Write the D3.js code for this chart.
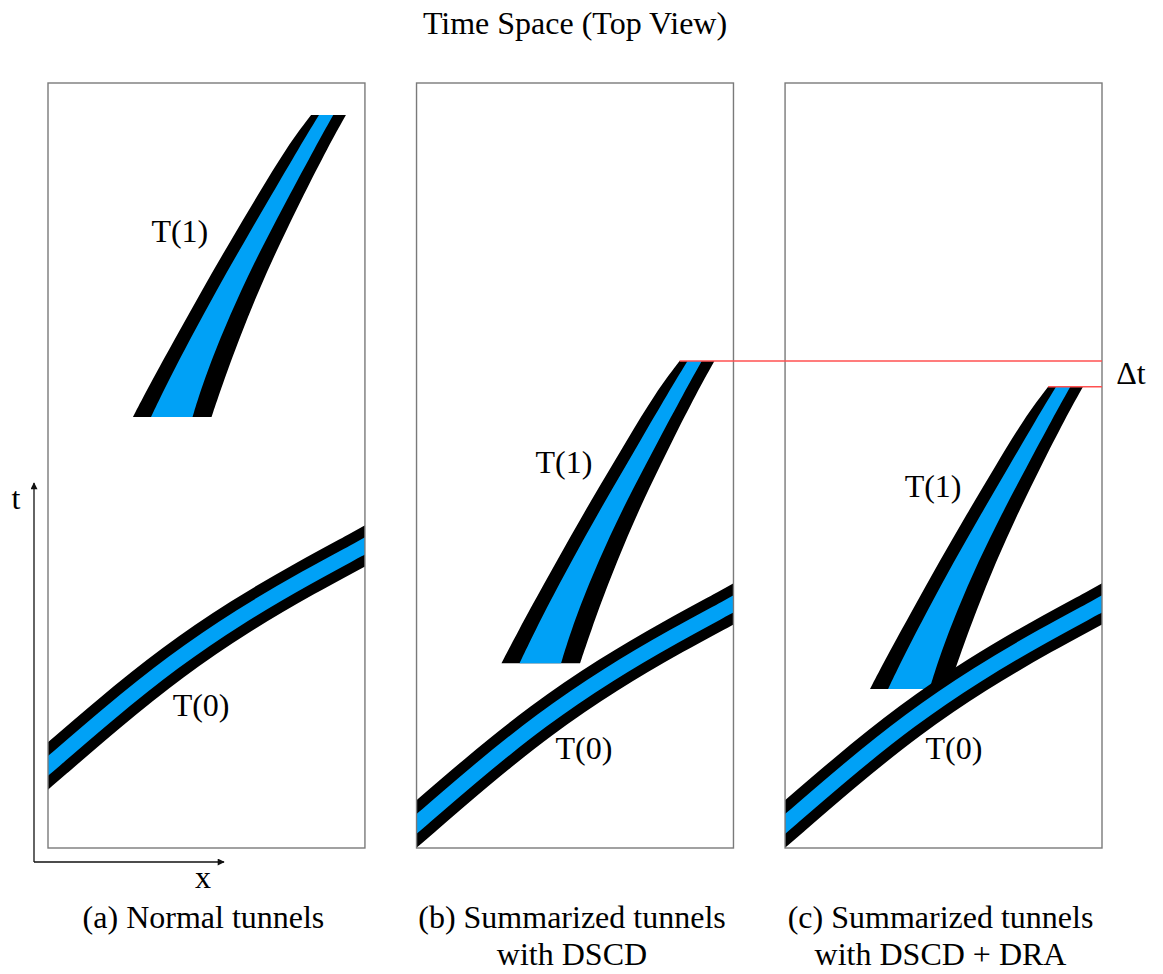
<!DOCTYPE html>
<html>
<head>
<meta charset="utf-8">
<script src="https://cdn.jsdelivr.net/npm/d3@7"></script>
<style>
  body { margin: 0; background: #fff; }
  svg text { font-family: "Liberation Serif", "DejaVu Serif", serif !important; }
</style>
</head>
<body>
<div id="visContainer"></div>
<script>
// panels and their captions
const panels = ["a", "b", "c"];
const captionLines = [
  ["(a) Normal tunnels"],
  ["(b) Summarized tunnels", "with DSCD"],
  ["(c) Summarized tunnels", "with DSCD + DRA"],
];

// T(0) centre line, in panel units (x 0..100, t 0..240)
const t0X = [-5, 0, 18.6, 39.4, 60.6, 81.7, 100, 105];
const t0T = [21.5, 25.7, 41.8, 58.5, 72.8, 85.0, 94.7, 97.6];
const t0Shift = [0, -18.2, -18.2];

// T(1) edges (outer black, inner blue), widening toward the bottom
const t1T = [135.2, 145, 160, 175, 190, 205, 220, 230];
const t1OuterLeft = [26.8, 31.9, 40.2, 48.6, 57.3, 66.3, 75.4, 83.0];
const t1InnerLeft = [32.5, 37.2, 45.0, 53.2, 61.8, 70.6, 79.4, 85.5];
const t1InnerRight = [45.6, 48.6, 54.3, 60.9, 68.3, 76.3, 84.4, 90.0];
const t1OuterRight = [51.6, 54.9, 60.4, 66.5, 73.3, 80.7, 88.4, 94.0];
const t1Shift = [0, -77.2, -85.3];

// label anchors
const t1LabelX = [41.6, 46.5, 46.7];
const t1LabelT = [190.1, 117.6, 110.1];
const t0LabelX = [48.3, 52.8, 53.3];
const t0LabelT = [41.4, 27.9, 27.9];

const serif = "'Liberation Serif', 'DejaVu Serif', serif";

function drawVis() {
  const width = 1163;
  const height = 974;
  const top = 83;
  const bottom = 848;

  const svg = d3
    .select("#visContainer")
    .append("svg")
    .attr("width", width)
    .attr("height", height);

  const addText = (sel, x, y, str) =>
    sel.append("text")
      .attr("x", x)
      .attr("y", y)
      .attr("text-anchor", "middle")
      .attr("font-family", serif)
      .style("font-family", serif)
      .style("font-size", "32px")
      .text(str);

  const panelScale = d3
    .scaleBand()
    .domain(panels)
    .range([48, 1102])
    .paddingInner(0.14);
  const bw = panelScale.bandwidth();

  const xScale = d3.scaleLinear().domain([0, 100]).range([0, bw]);
  const tScale = d3.scaleLinear().domain([0, 240]).range([bottom, top]);

  const defs = svg.append("defs");
  defs.append("clipPath")
    .attr("id", "panelClip")
    .append("rect")
    .attr("x", 0)
    .attr("y", top)
    .attr("width", bw)
    .attr("height", bottom - top);

  defs.append("marker")
    .attr("id", "arrow")
    .attr("viewBox", "0 0 10 10")
    .attr("refX", 9)
    .attr("refY", 5)
    .attr("markerWidth", 9)
    .attr("markerHeight", 7)
    .attr("markerUnits", "userSpaceOnUse")
    .attr("orient", "auto")
    .append("path")
    .attr("d", "M0,0 L10,5 L0,10 z")
    .attr("fill", "#111");

  // title
  addText(svg, 575, 34, "Time Space (Top View)");

  const t1Rows = t1T.map((t, j) => ({
    t,
    lo: t1OuterLeft[j],
    li: t1InnerLeft[j],
    ri: t1InnerRight[j],
    ro: t1OuterRight[j],
  }));
  const t0Rows = t0X.map((x, j) => ({ x, t: t0T[j] }));

  panels.forEach((p, i) => {
    const g = svg.append("g").attr("transform", `translate(${panelScale(p)},0)`);
    const inner = g.append("g").attr("clip-path", "url(#panelClip)");

    // T(1)
    const s1 = t1Shift[i];
    const outerArea = d3.area()
      .curve(d3.curveBasis)
      .y((d) => tScale(d.t + s1))
      .x0((d) => xScale(d.lo))
      .x1((d) => xScale(d.ro));
    const innerArea = d3.area()
      .curve(d3.curveBasis)
      .y((d) => tScale(d.t + s1))
      .x0((d) => xScale(d.li))
      .x1((d) => xScale(d.ri));
    inner.append("path").attr("d", outerArea(t1Rows)).attr("fill", "#000");
    inner.append("path").attr("d", innerArea(t1Rows)).attr("fill", "#00a1f6");

    // T(0)
    const s0 = t0Shift[i];
    const line0 = d3.line()
      .curve(d3.curveBasis)
      .x((d) => xScale(d.x))
      .y((d) => tScale(d.t + s0));
    inner.append("path")
      .attr("d", line0(t0Rows))
      .attr("fill", "none")
      .attr("stroke", "#000")
      .attr("stroke-width", 36);
    inner.append("path")
      .attr("d", line0(t0Rows))
      .attr("fill", "none")
      .attr("stroke", "#00a1f6")
      .attr("stroke-width", 15);

    // panel frame
    g.append("rect")
      .attr("x", 0)
      .attr("y", top)
      .attr("width", bw)
      .attr("height", bottom - top)
      .attr("fill", "none")
      .attr("stroke", "#7a7a7a")
      .attr("stroke-width", 1.4);

    // labels
    addText(g, xScale(t1LabelX[i]), tScale(t1LabelT[i]), "T(1)");
    addText(g, xScale(t0LabelX[i]), tScale(t0LabelT[i]), "T(0)");

    // caption
    captionLines[i].forEach((line, k) => {
      addText(g, bw / 2 - 3, 928 + k * 37, line);
    });
  });

  // delta t marks
  const last = t1T.length - 1;
  const yB = tScale(t1T[last] + t1Shift[1]);
  const yC = tScale(t1T[last] + t1Shift[2]);
  const rightC = panelScale("c") + bw;
  svg.append("line")
    .attr("x1", panelScale("b") + xScale(t1OuterLeft[last]))
    .attr("x2", rightC)
    .attr("y1", yB)
    .attr("y2", yB)
    .attr("stroke", "#ff5050")
    .attr("stroke-width", 1.4);
  svg.append("line")
    .attr("x1", panelScale("c") + xScale(t1OuterLeft[last]))
    .attr("x2", rightC)
    .attr("y1", yC)
    .attr("y2", yC)
    .attr("stroke", "#ff5050")
    .attr("stroke-width", 1.4);
  addText(svg, rightC + 29, (yB + yC) / 2 + 10, "Δt");

  // t / x arrows
  const ox = 34;
  const oy = 862;
  svg.append("line")
    .attr("x1", ox).attr("y1", oy)
    .attr("x2", ox).attr("y2", 483)
    .attr("stroke", "#111")
    .attr("stroke-width", 1.3)
    .attr("marker-end", "url(#arrow)");
  svg.append("line")
    .attr("x1", ox).attr("y1", oy)
    .attr("x2", 224).attr("y2", oy)
    .attr("stroke", "#111")
    .attr("stroke-width", 1.3)
    .attr("marker-end", "url(#arrow)");
  addText(svg, 16, 509, "t");
  addText(svg, 203, 888, "x");
}

drawVis();
</script>
</body>
</html>
